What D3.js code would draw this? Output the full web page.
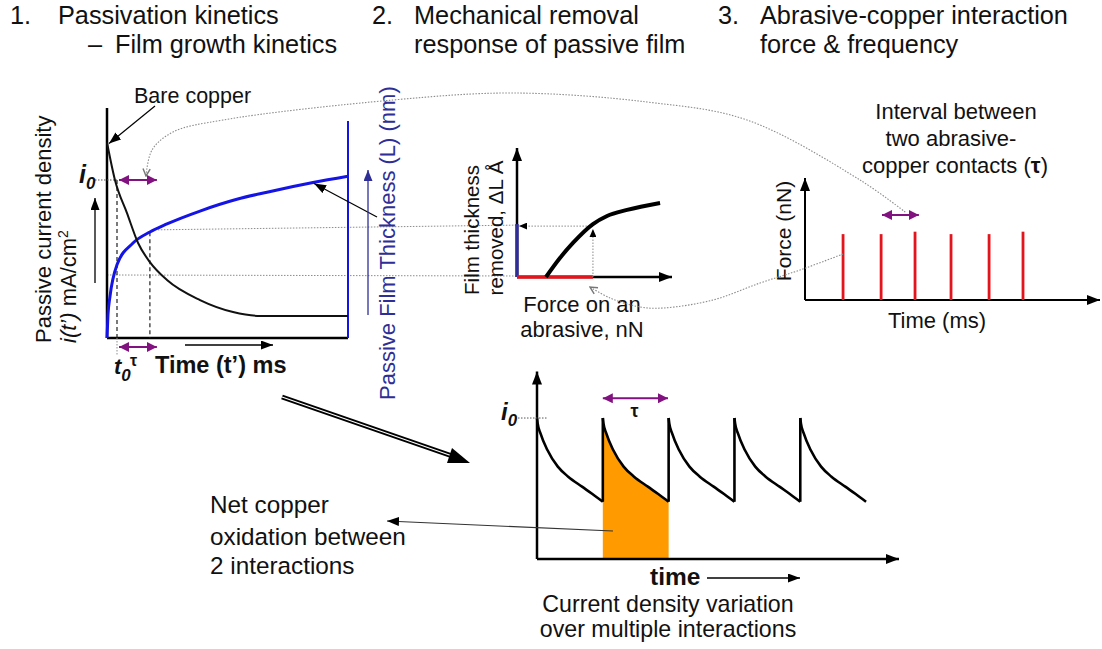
<!DOCTYPE html>
<html>
<head>
<meta charset="utf-8">
<script src="https://cdn.jsdelivr.net/npm/d3@7"></script>
<style>
  body { margin: 0; background: #fff; }
  text { font-family: "Liberation Sans", Arial, sans-serif; }
</style>
</head>
<body>
<svg id="chart" width="1102" height="649"></svg>
<script>
// ---------- data ----------
// panel 1: passive current decay i(t') and film growth L(t'), t' as % of window
const decayT = [0, 3.3, 8.3, 12.9, 17.8, 24.9, 38.6, 52.3, 63.5, 100];
const decayI = [85, 68.7, 54.3, 41.3, 33, 25.2, 16.5, 11.3, 9.6, 9.6];
const filmT = [0, 0.4, 1.2, 4.1, 10.8, 17.8, 24.9, 38.6, 53.9, 66.4, 85.5, 100];
const filmL = [0, 10, 17.8, 31.7, 41.3, 46.1, 49.6, 55.2, 60.3, 63.4, 67.6, 70.3];
const i0Level = 68.7;
const t0 = 4.15;
const tau = 17.8;
const tauArrow = [5, 20.7];
const upperGuide = 47;
const lowerGuide = 27.4;

// panel 2: film thickness removed vs force on an abrasive
const forceX = [18.7, 27.7, 36.1, 49, 58.1, 71, 92.3];
const removedL = [0, 14.7, 26.4, 41, 47.3, 52, 57.4];
const forceAt = 49;
const removedAt = 41;

// panel 3: contact force pulses
const contactT = [12.9, 25.8, 37.3, 49.5, 62.4, 73.9];
const contactF = [54, 54, 56, 54, 54, 56];
const intervalArrow = [26.1, 38.6];

// panel 4: current density over repeated interactions (i / i0)
const decayU = [0, 0.01, 0.053, 0.158, 0.316, 0.474, 0.684, 0.842, 1];
const decayShape = [1, 0.962, 0.891, 0.773, 0.655, 0.584, 0.513, 0.461, 0.406];
const peakTimes = [0, 1, 2, 3, 4];
const shadedPeak = 1;

// ---------- setup ----------
const svg = d3.select("#chart");
const defs = svg.append("defs");
const purple = "#82127f";
const navy = "#2e2e96";
const blue = "#1414e6";
const red = "#e3141c";
const grey = "#8c8c8c";

function marker(id, color, w, h, open) {
  defs.append("marker")
    .attr("id", id)
    .attr("viewBox", "0 0 10 10")
    .attr("preserveAspectRatio", "none")
    .attr("refX", open ? 9 : 10)
    .attr("refY", 5)
    .attr("markerUnits", "userSpaceOnUse")
    .attr("markerWidth", w)
    .attr("markerHeight", h)
    .attr("orient", "auto-start-reverse")
    .append("path")
    .attr("d", open ? "M1,1L9,5L1,9" : "M0,0L10,5L0,10z")
    .attr("fill", open ? "none" : color)
    .attr("stroke", open ? color : "none")
    .attr("stroke-width", open ? 1.6 : 0);
}
marker("ah", "#000", 12, 9);
marker("ahSmall", "#000", 8, 7);
marker("ahAxis", "#000", 13, 10);
marker("ahNavy", navy, 11, 9);
marker("ahPurple", purple, 10, 10);
marker("ahGrey", "#777", 9, 9, true);

function line(x1, y1, x2, y2, color, width, dash) {
  return svg.append("line")
    .attr("x1", x1).attr("y1", y1).attr("x2", x2).attr("y2", y2)
    .attr("stroke", color).attr("stroke-width", width)
    .attr("stroke-dasharray", dash || null);
}
function arrow(x1, y1, x2, y2, color, width, m) {
  return line(x1, y1, x2, y2, color, width).attr("marker-end", `url(#${m})`);
}
function dblArrow(x1, y1, x2, y2) {
  return arrow(x1, y1, x2, y2, purple, 2, "ahPurple").attr("marker-start", "url(#ahPurple)");
}
function label(x, y, str, size, opts = {}) {
  const t = svg.append("text")
    .attr("font-size", size)
    .attr("fill", opts.fill || "#111")
    .attr("text-anchor", opts.anchor || "start")
    .attr("font-weight", opts.bold ? "bold" : null)
    .attr("font-style", opts.italic ? "italic" : null);
  if (opts.rotate) t.attr("transform", `translate(${x},${y}) rotate(-90)`);
  else t.attr("x", x).attr("y", y);
  t.text(str);
  return t;
}

// ---------- headers ----------
const hs = 25.3;
label(10, 24, "1.", hs);
label(58, 24, "Passivation kinetics", hs);
label(88, 53, "–", hs);
label(115, 53, "Film growth kinetics", hs);
label(372, 24, "2.", hs);
label(414, 24, "Mechanical removal", hs);
label(414, 53, "response of passive film", hs);
label(718, 24, "3.", hs);
label(760, 24, "Abrasive-copper interaction", hs);
label(760, 53, "force & frequency", hs);

// ---------- panel 1 ----------
const x1 = d3.scaleLinear().domain([0, 100]).range([107, 348]);
const y1 = d3.scaleLinear().domain([0, 100]).range([338, 108]);

// guides to panel 2
const x2 = d3.scaleLinear().domain([0, 100]).range([517, 672]);
const y2 = d3.scaleLinear().domain([0, 100]).range([277, 148]);
line(x1(tau) + 2, y1(upperGuide), x2(0), y2(removedAt) + 1, grey, 1, "1.5,1.5");
line(x1(0), y1(lowerGuide), x2(0), y2(0) - 1, grey, 1, "1.5,1.5");

// axes
line(x1(0), y1(100), x1(0), y1(0), "#000", 2.5);
line(x1(0), y1(0), x1(100), y1(0), "#000", 2.5);
line(x1(100), y1(94.3), x1(100), y1(0), blue, 2);

// t0 and tau markers
line(x1(t0), y1(i0Level), x1(t0), y1(0), "#222", 1.2, "4,3");
line(x1(t0), y1(0), x1(t0), y1(0) + 18, grey, 1, "1.5,1.5");
line(x1(tau), y1(46), x1(tau), y1(0), "#222", 1.2, "4,3");
line(95, y1(i0Level), x1(t0), y1(i0Level), "#555", 1, "1.5,1.5");

// curves
svg.append("path")
  .datum(d3.zip(filmT, filmL))
  .attr("fill", "none").attr("stroke", blue).attr("stroke-width", 3)
  .attr("d", d3.line().x(d => x1(d[0])).y(d => y1(d[1])).curve(d3.curveMonotoneX));
svg.append("path")
  .datum(d3.zip(decayT, decayI))
  .attr("fill", "none").attr("stroke", "#111").attr("stroke-width", 2)
  .attr("d", d3.line().x(d => x1(d[0])).y(d => y1(d[1])).curve(d3.curveMonotoneX));

dblArrow(x1(tauArrow[0]), y1(i0Level), x1(tauArrow[1]), y1(i0Level));
dblArrow(x1(tauArrow[0]), y1(0) + 9, x1(tauArrow[1]), y1(0) + 9);

arrow(155, 106, x1(0) + 2, y1(decayI[0]) + 1, "#000", 1.2, "ah");
label(134, 103, "Bare copper", 21.5);
arrow(377, 217, x1(85.5) + 1, y1(67.6) + 1, "#000", 1.2, "ah");

// y labels
label(51, 343, "Passive current density", 22, { rotate: true });
const yl2 = svg.append("text").attr("font-size", 22).attr("fill", "#111")
  .attr("transform", "translate(76,343) rotate(-90)");
yl2.append("tspan").attr("font-style", "italic").text("i(t’)");
yl2.append("tspan").text("  mA/cm");
yl2.append("tspan").attr("font-size", 14).attr("dy", -8).text("2");
arrow(95, 283, 95, 198, "#000", 1.3, "ah");

label(395, 400, "Passive Film Thickness (L) (nm)", 22, { rotate: true, fill: navy });
arrow(368, 315, 368, 170, navy, 1.3, "ahNavy");

// i0 and t0 labels
const i0a = svg.append("text").attr("x", 79).attr("y", 183)
  .attr("font-size", 25).attr("font-weight", "bold").attr("font-style", "italic").attr("fill", "#111");
i0a.append("tspan").text("i");
i0a.append("tspan").attr("font-size", 17).attr("dy", 6).text("0");

const t0l = svg.append("text").attr("x", 114).attr("y", 374)
  .attr("font-size", 22).attr("font-weight", "bold").attr("font-style", "italic").attr("fill", "#111");
t0l.append("tspan").text("t");
t0l.append("tspan").attr("font-size", 17).attr("dy", 7).text("0");
t0l.append("tspan").attr("x", 130).attr("dy", -15).attr("font-size", 16).attr("font-style", "normal").text("τ");

label(155, 373, "Time (t’) ms", 23.5, { bold: true });
arrow(185, 345, 273, 345, "#000", 1.3, "ah");

// ---------- panel 2 ----------
arrow(x2(0), y2(0), x2(0), y2(100), "#000", 2.5, "ahAxis");
arrow(x2(0), y2(0), x2(100), y2(0), "#000", 2.5, "ahAxis");
line(x2(0), y2(removedAt), x2(0), y2(0), navy, 3.5);
line(x2(0), y2(0), x2(forceAt), y2(0), red, 3.5);
line(x2(forceAt), y2(0), x2(forceAt), y2(removedAt) + 5, grey, 1, "1.5,1.5")
  .attr("marker-end", "url(#ahSmall)");
line(x2(forceAt), y2(removedAt) + 2, x2(0) + 2, y2(removedAt) + 2, grey, 1, "1.5,1.5")
  .attr("marker-end", "url(#ahSmall)");
svg.append("path")
  .datum(d3.zip(forceX, removedL))
  .attr("fill", "none").attr("stroke", "#000").attr("stroke-width", 4)
  .attr("d", d3.line().x(d => x2(d[0])).y(d => y2(d[1])).curve(d3.curveMonotoneX));

label(479, 230, "Film thickness", 20.5, { rotate: true, anchor: "middle" });
label(503, 228, "removed, ΔL Å", 20.5, { rotate: true, anchor: "middle" });
label(582, 312, "Force on an", 22, { anchor: "middle" });
label(582, 337, "abrasive, nN", 22, { anchor: "middle" });

// ---------- panel 3 ----------
const x3 = d3.scaleLinear().domain([0, 100]).range([805, 1100]);
const y3 = d3.scaleLinear().domain([0, 100]).range([300, 178]);
arrow(x3(0), y3(0), x3(0), y3(100), "#000", 2, "ahAxis");
arrow(x3(0), y3(0), x3(100), y3(0), "#000", 2, "ahAxis");
svg.append("g").selectAll("line")
  .data(d3.zip(contactT, contactF))
  .join("line")
  .attr("x1", d => x3(d[0])).attr("x2", d => x3(d[0]))
  .attr("y1", y3(0)).attr("y2", d => y3(d[1]))
  .attr("stroke", red).attr("stroke-width", 2.8);
dblArrow(x3(intervalArrow[0]), y3(69.7), x3(intervalArrow[1]), y3(69.7));

label(791, 231, "Force (nN)", 21, { rotate: true, anchor: "middle" });
label(937, 328, "Time (ms)", 22, { anchor: "middle" });
label(956, 119, "Interval between", 22, { anchor: "middle" });
label(951, 146, "two abrasive-", 22, { anchor: "middle" });
const cc = label(955, 173, "copper contacts (", 22, { anchor: "middle" });
cc.append("tspan").attr("font-weight", "bold").text("τ");
cc.append("tspan").text(")");

// ---------- curved connectors ----------
const curve = d3.line().curve(d3.curveCatmullRom.alpha(0.5));
svg.append("path")
  .attr("d", curve([[x3(34), y3(72)], [860, 180], [747, 120], [647, 102], [513, 93],
    [393, 100], [223, 120], [173, 132], [152, 150], [146, 176]]))
  .attr("fill", "none").attr("stroke", grey).attr("stroke-width", 1.1)
  .attr("stroke-dasharray", "1.5,1.5").attr("marker-end", "url(#ahGrey)");
svg.append("path")
  .attr("d", curve([[x3(contactT[0]), y3(37.7)], [800, 270], [760, 283], [713, 300],
    [663, 308], [640, 307], [610, 298], [590, 287]]))
  .attr("fill", "none").attr("stroke", grey).attr("stroke-width", 1.1)
  .attr("stroke-dasharray", "1.5,1.5").attr("marker-end", "url(#ahGrey)");

// ---------- big transition arrow ----------
line(282, 397, 458, 458, "#000", 5);
line(282, 397, 458, 458, "#fff", 1.2);
svg.append("path")
  .attr("d", d3.line()([[470, 463], [452, 448], [447, 463]]) + "Z")
  .attr("fill", "#000");

// ---------- panel 4 ----------
const x4 = d3.scaleLinear().domain([0, 5.5]).range([537, 899]);
const y4 = d3.scaleLinear().domain([0, 1.33]).range([559, 371.5]);

const shaded = decayU.map((u, k) => [shadedPeak + u, decayShape[k]]);

svg.append("path")
  .datum(shaded)
  .attr("fill", "#ff9a00")
  .attr("d", d3.area().x(d => x4(d[0])).y0(y4(0)).y1(d => y4(d[1])).curve(d3.curveMonotoneX));

arrow(x4(0), y4(0), x4(0), y4(1.33), "#000", 2.5, "ahAxis");
arrow(x4(0), y4(0), x4(5.5), y4(0), "#000", 2.5, "ahAxis");

peakTimes.forEach(p => {
  const seg = decayU.map((u, k) => [p + u, decayShape[k]]);
  svg.append("path")
    .datum(seg)
    .attr("fill", "none").attr("stroke", "#000").attr("stroke-width", 2.6)
    .attr("d", d3.line().x(d => x4(d[0])).y(d => y4(d[1])).curve(d3.curveMonotoneX));
});
// vertical jumps at each new interaction
svg.append("g").selectAll("line")
  .data(peakTimes.slice(1))
  .join("line")
  .attr("x1", d => x4(d)).attr("x2", d => x4(d))
  .attr("y1", y4(decayShape[decayShape.length - 1])).attr("y2", y4(1))
  .attr("stroke", "#000").attr("stroke-width", 2.6);

line(518, y4(1), x4(0.15), y4(1), "#555", 1, "1.5,1.5");
const i0b = svg.append("text").attr("x", 501).attr("y", 420)
  .attr("font-size", 24).attr("font-weight", "bold").attr("font-style", "italic").attr("fill", "#111");
i0b.append("tspan").text("i");
i0b.append("tspan").attr("font-size", 17).attr("dy", 6).text("0");

dblArrow(x4(1.0), y4(1.14), x4(1.99), y4(1.14));
label(x4(1.48), 417, "τ", 18, { bold: true, anchor: "middle" });

label(650, 585, "time", 24.5, { bold: true });
arrow(707, 578, 800, 578, "#000", 1.3, "ah");
label(668, 612, "Current density variation", 23.2, { anchor: "middle" });
label(668, 637, "over multiple interactions", 23.2, { anchor: "middle" });

label(210, 513, "Net copper", 24.3);
label(210, 545, "oxidation between", 24.3);
label(210, 574, "2 interactions", 24.3);
arrow(613, 531, 387, 521, "#333", 1.1, "ah");
</script>
</body>
</html>
